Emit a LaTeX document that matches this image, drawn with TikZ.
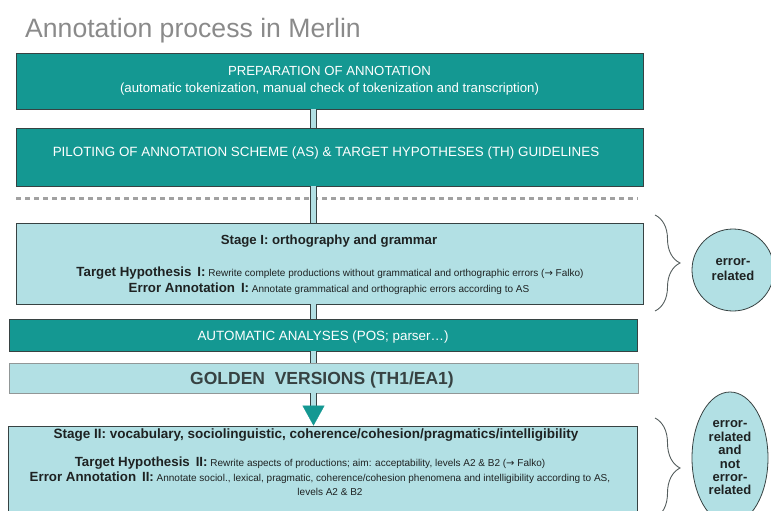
\documentclass[tikz,border=0pt]{standalone}
\usepackage{fontspec}
\setmainfont{Liberation Sans}
\newfontfamily\symfont{DejaVu Sans}
\usetikzlibrary{arrows.meta,shapes.geometric,decorations.pathreplacing}

\definecolor{merlinteal}{RGB}{20,152,146}
\definecolor{merlinlight}{RGB}{178,224,228}
\definecolor{merlinedge}{RGB}{55,66,66}
\definecolor{merlingray}{RGB}{138,138,138}
\definecolor{merlintext}{RGB}{30,34,34}
\newcommand{\fsz}[2]{\fontsize{#1}{#2}\selectfont}
\newcommand{\tagline}[2]{{\fsz{13.3}{16}\bfseries #1:}~{\fsz{10}{12}#2}}

\begin{document}
\begin{tikzpicture}[x=1pt, y=-1pt,
    darkbox/.style={draw=merlinedge, fill=merlinteal, line width=0.8pt, inner sep=0pt, text=white},
    lightbox/.style={draw=merlinedge, fill=merlinlight, line width=0.8pt, inner sep=0pt},
    txt/.style={inner sep=0pt, anchor=base, text=merlintext},
    shaft/.style={draw=merlinedge, line width=1pt, double=merlinlight, double distance=4.5pt},
    bracket/.style={decorate, decoration={brace, amplitude=25pt}, draw=merlinedge!85, line width=0.9pt},
    verdict/.style={draw=merlinedge, fill=merlinlight, line width=0.8pt, text=merlintext, align=center, inner sep=0pt}]
    \clip (0,0) rectangle (771,511);

    \node[anchor=base west, inner sep=0pt, text=merlingray, font=\fsz{26.6}{30}] (title) at (25,38) {Annotation process in Merlin};

    \node[darkbox, minimum width=627pt, minimum height=56pt, align=center, font=\fsz{13.2}{17}] (prep) at (329.5,81)
        {PREPARATION OF ANNOTATION\\(automatic tokenization, manual check of tokenization and transcription)};
    \node[darkbox, minimum width=627pt, minimum height=58pt] (pilot) at (329.5,157) {};
    \node[txt, text=white, font=\fsz{13.4}{15}] (pilotTxt) at (326,156) {PILOTING OF ANNOTATION SCHEME (AS) \& TARGET HYPOTHESES (TH) GUIDELINES};

    \draw[draw=merlingray!80, line width=3pt, dash pattern=on 5pt off 4pt] (16,198) -- (638,198);

    \node[lightbox, minimum width=627pt, minimum height=81pt] (stage1) at (329.5,263.5) {};
    \node[txt, font=\fsz{13.2}{15}\bfseries] (stage1Head) at (329,244) {Stage I: orthography and grammar};
    \node[txt] (th1) at (330,276) {\tagline{Target Hypothesis\, I}{Rewrite complete productions without grammatical and orthographic errors ({\symfont →} Falko)}};
    \node[txt] (ea1) at (329,292) {\tagline{Error Annotation\, I}{Annotate grammatical and orthographic errors according to AS}};

    \node[darkbox, minimum width=628pt, minimum height=32pt] (auto) at (323,335) {};
    \node[txt, text=white, font=\fsz{13.4}{15}] (autoTxt) at (323,340) {AUTOMATIC ANALYSES (POS; parser…)};

    \node[lightbox, draw=merlinedge!55, minimum width=629pt, minimum height=30pt] (golden) at (323.5,378) {};
    \node[txt, text=merlinedge, font=\fsz{17.5}{20}\bfseries] (goldenTxt) at (322,384) {GOLDEN\ \ VERSIONS (TH1/EA1)};

    \node[lightbox, minimum width=629pt, minimum height=120pt] (stage2) at (322.5,486) {};
    \node[txt, font=\fsz{13.5}{15}\bfseries] (stage2Head) at (316,438) {Stage II: vocabulary, sociolinguistic, coherence/cohesion/pragmatics/intelligibility};
    \node[txt] (th2) at (310,466) {\tagline{Target Hypothesis\, II}{Rewrite aspects of productions; aim: acceptability, levels A2 \& B2 ({\symfont →} Falko)}};
    \node[txt] (ea2) at (320,481) {\tagline{Error Annotation\, II}{Annotate sociol., lexical, pragmatic, coherence/cohesion phenomena and intelligibility according to AS,}};
    \node[txt, font=\fsz{10}{12}] (ea2More) at (330,495) {levels A2 \& B2};

    \coordinate (axis) at (313.5,0);
    \coordinate (tip) at (stage2.north -| axis);
    \draw[shaft] (prep.south -| axis) -- (pilot.north -| axis);
    \draw[shaft] (pilot.south -| axis) -- (stage1.north -| axis);
    \draw[shaft] (stage1.south -| axis) -- (auto.north -| axis);
    \draw[shaft] (auto.south -| axis) -- (golden.north -| axis);
    \draw[shaft, shorten >=19pt] (golden.south -| axis) -- (tip);
    \draw[draw=merlinteal, line width=0.3pt, -{Triangle[width=22pt,length=20pt]}] ([yshift=20pt]tip) -- (tip);

    \draw[bracket] (655,215) -- (655,311);
    \draw[bracket] (655,418) -- (655,518);

    \node[verdict, circle, minimum size=82pt, font=\fsz{13}{15}\bfseries] (errRel) at (733,270) {error-\\related};
    \node[verdict, ellipse, minimum width=76pt, minimum height=132pt, font=\fsz{13}{13.4}\bfseries] (mixRel) at (730,458)
        {error-\\related\\and\\not\\error-\\related};
\end{tikzpicture}
\end{document}
